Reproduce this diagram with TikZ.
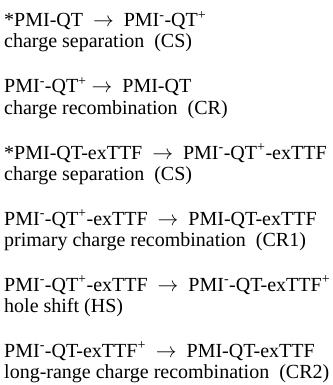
\documentclass[tikz,border=0pt]{standalone}
\usepackage{fontspec}
\setmainfont{Liberation Serif}
\newcommand{\chm}{\textsuperscript{-}}
\newcommand{\chp}{\textsuperscript{+}}
\newcommand{\rarr}{\ \ $\rightarrow$\ \ }
\begin{document}
\begin{tikzpicture}[x=1pt,y=-1pt,
  txt/.style={anchor=base west,inner sep=0pt,font=\fontsize{20}{24}\selectfont}]
\useasboundingbox (0,0) rectangle (332,385);
\node[txt] (a1) at (4,27) {*PMI-QT\rarr PMI\chm-QT\chp};
\node[txt] (a2) at (4,48) {charge separation\ \ (CS)};
\node[txt] (b1) at (4,93) {PMI\chm-QT\chp\ $\rightarrow$\ \ PMI-QT};
\node[txt] (b2) at (4,114) {charge recombination\ \ (CR)};
\node[txt] (c1) at (4,159) {*PMI-QT-exTTF\rarr PMI\chm-QT\chp-exTTF};
\node[txt] (c2) at (4,180) {charge separation\ \ (CS)};
\node[txt] (d1) at (4,225) {PMI\chm-QT\chp-exTTF\rarr PMI-QT-exTTF};
\node[txt] (d2) at (4,246) {primary charge recombination\ \ (CR1)};
\node[txt] (e1) at (4,291) {PMI\chm-QT\chp-exTTF\rarr PMI\chm-QT-exTTF\chp};
\node[txt] (e2) at (4,312) {hole shift (HS)};
\node[txt] (f1) at (4,357) {PMI\chm-QT-exTTF\chp\rarr PMI-QT-exTTF};
\node[txt] (f2) at (4,378) {long-range charge recombination\ \ (CR2)};
\end{tikzpicture}
\end{document}
